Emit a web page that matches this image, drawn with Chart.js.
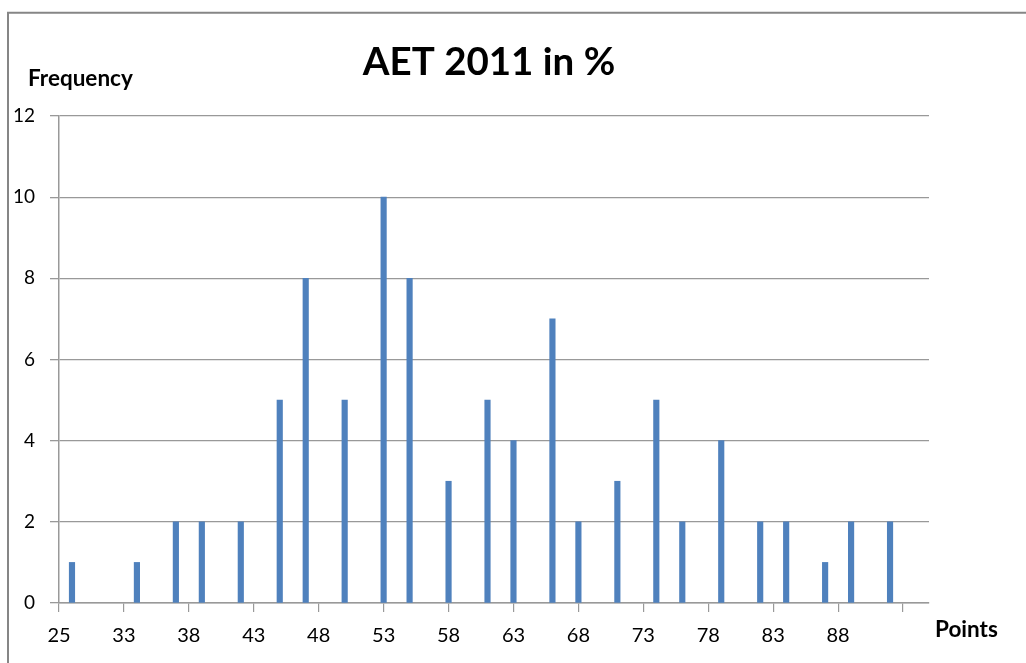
<!DOCTYPE html>
<html>
<head>
<meta charset="utf-8">
<title>AET 2011 in %</title>
<script src="https://cdn.jsdelivr.net/npm/chart.js@4.4.1/dist/chart.umd.min.js"></script>
<style>
  html, body { margin: 0; padding: 0; background: #ffffff; }
  #wrap { width: 1026px; height: 663px; overflow: hidden; }
</style>
</head>
<body>
<div id="wrap"><canvas id="chart" width="1026" height="663"></canvas></div>
<script>
// Score categories on the horizontal axis (percent points)
const categories = [
  '25', '29', '30', '31', '32', '33', '34', '35', '36', '37',
  '38', '39', '40', '41', '42', '43', '44', '45', '46', '47',
  '48', '49', '50', '51', '52', '53', '54', '55', '56', '57',
  '58', '59', '60', '61', '62', '63', '64', '65', '66', '67',
  '68', '69', '70', '71', '72', '73', '74', '75', '76', '77',
  '78', '79', '80', '81', '82', '83', '84', '85', '86', '87',
  '88', '89', '90', '91', '92', '93', '94', '95'
];

// Labels printed under every fifth category
const tickLabels = ['25', '33', '38', '43', '48', '53', '58', '63', '68', '73', '78', '83', '88'];

// Scores that occurred and how often
const scores = ['29', '34', '37', '39', '42', '45', '47', '50', '53', '55', '58', '61',
                '63', '66', '68', '71', '74', '76', '79', '82', '84', '87', '89', '92'];
const frequency = [1, 1, 2, 2, 2, 5, 8, 5, 10, 8, 3, 5,
                   4, 7, 2, 3, 5, 2, 4, 2, 2, 1, 2, 2];

const yTicks = { min: 0, max: 12, step: 2 };

const chartTitle = 'AET 2011 in %';
const yTitle = 'Frequency';
const xTitle = 'Points';

const GRID = '#999999';
const BAR = '#4F81BD';
const FONT = 'Lato, "Open Sans", "DejaVu Sans", sans-serif';

// Frame and free-standing titles
const decorations = {
  id: 'decorations',
  beforeDraw(chart) {
    const ctx = chart.ctx;
    ctx.save();
    ctx.fillStyle = '#ffffff';
    ctx.fillRect(0, 0, chart.width, chart.height);
    ctx.strokeStyle = '#868686';
    ctx.lineWidth = 2;
    ctx.strokeRect(8, 12.75, chart.width + 20, chart.height + 20);
    ctx.restore();
  },
  afterDraw(chart) {
    const ctx = chart.ctx;
    const area = chart.chartArea;
    ctx.save();
    ctx.fillStyle = '#000000';
    ctx.textBaseline = 'alphabetic';

    ctx.font = 'bold 38.5px ' + FONT;
    ctx.textAlign = 'center';
    ctx.fillText(chartTitle, 489, 75);

    ctx.font = 'bold 22.5px ' + FONT;
    ctx.textAlign = 'left';
    ctx.fillText(yTitle, 28, 86);
    ctx.fillText(xTitle, area.right + 6, 637);
    ctx.restore();
  }
};

const data = {
  labels: categories,
  datasets: [{
    data: scores.map((s, i) => ({ x: s, y: frequency[i] })),
    backgroundColor: BAR,
    borderWidth: 0,
    barThickness: 5.5
  }]
};

new Chart(document.getElementById('chart'), {
  type: 'bar',
  data,
  plugins: [decorations],
  options: {
    responsive: false,
    animation: false,
    devicePixelRatio: 1,
    layout: { padding: { top: 116, right: 97, left: 0, bottom: 0 } },
    plugins: {
      legend: { display: false },
      tooltip: { enabled: false },
      title: { display: false }
    },
    scales: {
      x: {
        type: 'category',
        offset: false,
        afterFit(scale) { scale.height = 60; },
        afterBuildTicks(scale) {
          scale.ticks = scale.ticks.filter(t => t.value % 5 === 0 && t.value <= 65);
        },
        grid: {
          display: true,
          offset: false,
          drawOnChartArea: false,
          drawTicks: true,
          tickLength: 9,
          color: GRID,
          lineWidth: 1.2
        },
        border: { display: true, color: GRID, width: 1.5 },
        ticks: {
          autoSkip: false,
          maxRotation: 0,
          padding: 12,
          color: '#000000',
          font: { family: FONT, size: 20 },
          callback(value, index) { return tickLabels[index] || ''; }
        }
      },
      y: {
        min: yTicks.min,
        max: yTicks.max,
        afterFit(scale) { scale.width = 59; },
        grid: {
          color: GRID,
          lineWidth: 1.3,
          drawTicks: true,
          tickLength: 9
        },
        border: { display: true, color: GRID, width: 1.5 },
        ticks: {
          stepSize: yTicks.step,
          padding: 15,
          color: '#000000',
          font: { family: FONT, size: 19 }
        }
      }
    }
  }
});
</script>
</body>
</html>
